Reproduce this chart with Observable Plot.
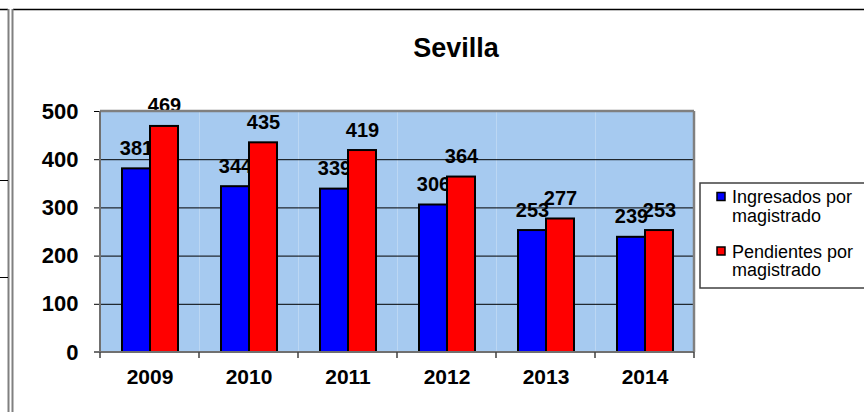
<!DOCTYPE html>
<html><head><meta charset="utf-8">
<script src="https://cdn.jsdelivr.net/npm/d3@7"></script>
<script src="https://cdn.jsdelivr.net/npm/@observablehq/plot@0.6"></script>
<style>
html,body{margin:0;padding:0;background:#fff;}
#chart{width:864px;height:412px;position:relative;}
</style></head><body><div id="chart"></div>
<script>
const title = "Sevilla";
const years = ["2009","2010","2011","2012","2013","2014"];
const seriesNames = ["Ingresados por magistrado","Pendientes por magistrado"];
const ingresados = [381,344,339,306,253,239];
const pendientes = [469,435,419,364,277,253];
const yTicks = [0,100,200,300,400,500];
const colors = ["#0000ff","#ff0000"];

const rows = [];
years.forEach((yr,i)=>{
  rows.push({year:yr, series:seriesNames[0], value:ingresados[i]});
  rows.push({year:yr, series:seriesNames[1], value:pendientes[i]});
});
const blue = rows.filter(d=>d.series===seriesNames[0]);
const red = rows.filter(d=>d.series===seriesNames[1]);
const font = "Arial, 'Liberation Sans', sans-serif";
const labelOpts = {fx:"year", x:"series", y:"value", text:d=>String(d.value), lineAnchor:"bottom", dy:-14, fontSize:20, fontWeight:"bold", fill:"#000"};
const barOpts = {fx:"year", x:"series", y:"value", fill:"series", stroke:"#000", strokeWidth:2};

const chart = Plot.plot({
  width:864, height:412, marginLeft:100, marginRight:170, marginTop:111, marginBottom:60,
  style:{fontFamily:font, background:"#fff", color:"#000", overflow:"visible"},
  fx:{domain:years, padding:0, label:null},
  x:{domain:seriesNames, paddingInner:0, paddingOuter:0.75, axis:null},
  y:{domain:[0,500], label:null},
  color:{domain:seriesNames, range:colors},
  marks:[
    Plot.frame({fill:"#a6caf0", stroke:null}),
    Plot.gridY(yTicks.filter(t=>t>0 && t<500), {stroke:"#000", strokeOpacity:1, strokeWidth:1}),
    Plot.axisY(yTicks, {tickSize:6, tickPadding:16, fontSize:22, fontWeight:"bold", stroke:"#000", label:null}),
    Plot.axisFx({anchor:"bottom", tickSize:0, tickPadding:17, fontSize:21, fontWeight:"bold", label:null}),
    Plot.barY(blue, barOpts),
    Plot.text(blue, labelOpts),
    Plot.barY(red, barOpts),
    Plot.text(red, labelOpts)
  ]
});
document.getElementById("chart").appendChild(chart);

const svg = d3.select(chart);
const fx = chart.scale("fx"), ys = chart.scale("y");
const xL = fx.apply(years[0]), xR = fx.apply(years[years.length-1]) + fx.bandwidth;
const y0 = ys.apply(0), yTop = ys.apply(500);
const g = svg.append("g");
// plot area borders
g.append("line").attr("x1",xL).attr("x2",xR).attr("y1",yTop).attr("y2",yTop).attr("stroke","#808080").attr("stroke-width",2.5);
g.append("line").attr("x1",xR).attr("x2",xR).attr("y1",yTop).attr("y2",y0).attr("stroke","#808080").attr("stroke-width",2.5);
g.append("line").attr("x1",xL).attr("x2",xL).attr("y1",yTop).attr("y2",y0+1).attr("stroke","#707070").attr("stroke-width",2);
g.append("line").attr("x1",xL-6).attr("x2",xR).attr("y1",y0).attr("y2",y0).attr("stroke","#707070").attr("stroke-width",2);
// category boundary ticks
const bounds = years.map(yr=>fx.apply(yr)).concat([xR]);
g.selectAll(".bt").data(bounds).join("line").attr("x1",d=>d).attr("x2",d=>d).attr("y1",y0).attr("y2",y0+6).attr("stroke","#404040").attr("stroke-width",1.5);

// title
svg.append("text").attr("x",456).attr("y",57).attr("text-anchor","middle")
  .attr("font-size",27).attr("font-weight","bold").attr("font-family",font).attr("fill","#000").text(title);

// legend
const lg = svg.append("g").attr("font-family",font).attr("font-size",18).attr("fill","#000").attr("text-anchor","start");
lg.append("rect").attr("x",700).attr("y",183).attr("width",180).attr("height",105).attr("fill","#fff").attr("stroke","#404040").attr("stroke-width",1.5);
seriesNames.forEach((name,i)=>{
  const base = 203 + i*54.5;
  lg.append("rect").attr("x",717).attr("y",base-10.5).attr("width",8).attr("height",8).attr("fill",colors[i]).attr("stroke","#000").attr("stroke-width",1.5);
  const lines = name.replace(/ (\S+)$/, "\n$1").split("\n");
  lines.forEach((ln,j)=>{
    lg.append("text").attr("x",732).attr("y",base + j*18.5).attr("text-anchor","start").text(ln);
  });
});

// outer frame pieces
const fr = svg.append("g");
fr.append("line").attr("x1",0).attr("x2",8).attr("y1",9.5).attr("y2",9.5).attr("stroke","#000").attr("stroke-width",1.5);
fr.append("line").attr("x1",13).attr("x2",864).attr("y1",9.5).attr("y2",9.5).attr("stroke","#000").attr("stroke-width",1.5);
fr.append("line").attr("x1",8.5).attr("x2",8.5).attr("y1",9).attr("y2",412).attr("stroke","#808080").attr("stroke-width",2);
fr.append("line").attr("x1",12.5).attr("x2",12.5).attr("y1",9).attr("y2",412).attr("stroke","#808080").attr("stroke-width",2);
fr.append("line").attr("x1",0).attr("x2",8).attr("y1",180.5).attr("y2",180.5).attr("stroke","#000").attr("stroke-width",1);
fr.append("line").attr("x1",0).attr("x2",8).attr("y1",277.5).attr("y2",277.5).attr("stroke","#000").attr("stroke-width",1);
</script></body></html>
